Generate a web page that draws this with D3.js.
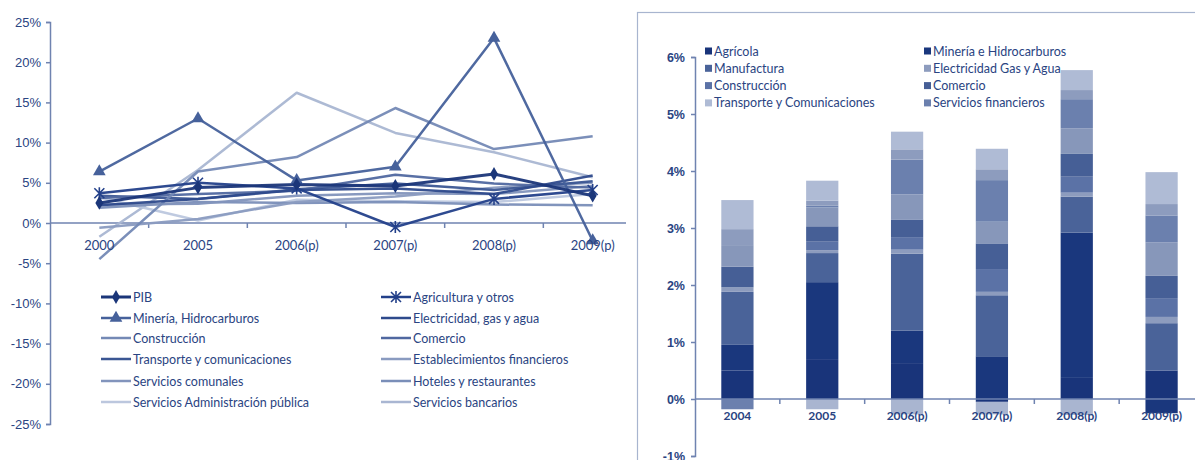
<!DOCTYPE html>
<html><head><meta charset="utf-8">
<script src="https://cdn.jsdelivr.net/npm/d3@7"></script>
<style>
body{margin:0;background:#fff;}
svg{display:block;font-family:Lato,"Open Sans",sans-serif;}
</style></head><body>
<svg id="c" width="1195" height="460"></svg>
<script>
// ---------- Left panel: sector growth rates (%) ----------
const lineYears = ["2000","2005","2006(p)","2007(p)","2008(p)","2009(p)"];
const lineTicks = [-25,-20,-15,-10,-5,0,5,10,15,20,25];

const pib            = [2.5, 4.4, 4.8, 4.6, 6.1, 3.4];
const agricultura    = [3.7, 5.0, 4.3, -0.5, 3.0, 4.1];
const mineriaHidro   = [6.4, 13.0, 5.3, 7.0, 23.0, -2.2];
const electricidadL  = [2.2, 3.0, 4.1, 4.3, 3.6, 5.9];
const construccionL  = [-4.5, 6.4, 8.2, 14.3, 9.2, 10.8];
const comercioL      = [3.1, 3.6, 4.0, 6.0, 4.9, 4.4];
const transporteL    = [3.4, 3.0, 4.2, 4.9, 4.1, 5.2];
const financierosL   = [-0.6, 0.5, 2.6, 3.3, 4.4, 5.0];
const comunalesL     = [2.3, 2.4, 3.4, 3.7, 3.6, 4.6];
const hotelesL       = [1.9, 2.6, 2.5, 2.6, 2.3, 2.2];
const adminPublicaL  = [3.2, 0.3, 2.9, 2.7, 2.6, 3.6];
const bancariosL     = [-1.7, 6.6, 16.2, 11.2, 8.8, 5.7];

const lineSeries = [
  {name:"PIB", values:pib, color:"#1b3679", width:3, marker:"diamond"},
  {name:"Agricultura y otros", values:agricultura, color:"#23408a", width:2.5, marker:"star"},
  {name:"Minería, Hidrocarburos", values:mineriaHidro, color:"#46619b", width:2.5, marker:"triangle"},
  {name:"Electricidad, gas y agua", values:electricidadL, color:"#2e4a8c", width:2.5},
  {name:"Construcción", values:construccionL, color:"#7489b5", width:2.5},
  {name:"Comercio", values:comercioL, color:"#5068a0", width:2.5},
  {name:"Transporte y comunicaciones", values:transporteL, color:"#3b5693", width:2.5},
  {name:"Establecimientos financieros", values:financierosL, color:"#8a9bc0", width:2.5},
  {name:"Servicios comunales", values:comunalesL, color:"#8294bc", width:2.5},
  {name:"Hoteles y restaurantes", values:hotelesL, color:"#7a8eb8", width:2.5},
  {name:"Servicios Administración pública", values:adminPublicaL, color:"#bcc7de", width:2.5},
  {name:"Servicios bancarios", values:bancariosL, color:"#a9b6d2", width:2.5}
];

// ---------- Right panel: contribution to growth (%) ----------
const barYears = ["2004","2005","2006(p)","2007(p)","2008(p)","2009(p)"];
const barTicks = [-1,0,1,2,3,4,5,6];

const agricola        = [0.50, 0.70, 0.63, -0.05, 0.37, 0.50];
const mineria         = [0.45, 1.35, 0.57, 0.75, 2.55, -0.25];
const manufactura     = [0.93, 0.51, 1.35, 1.07, 0.63, 0.83];
const electricidad    = [0.08, 0.05, 0.07, 0.06, 0.07, 0.11];
const construccion    = [0.00, 0.15, 0.22, 0.40, 0.28, 0.33];
const comercio        = [0.36, 0.27, 0.31, 0.45, 0.40, 0.39];
const servComunales   = [0.38, 0.33, 0.44, 0.38, 0.45, 0.59];
const servFinancieros = [-0.18, 0.03, 0.61, 0.73, 0.51, 0.47];
const vivienda        = [0.28, 0.09, 0.18, 0.19, 0.16, 0.20];
const transporte      = [0.51, 0.35, 0.31, 0.36, 0.35, 0.56];
const bancarios       = [0.00, -0.18, -0.27, -0.22, -0.28, 0.00];

const barSeries = [
  {key:"Agrícola", values:agricola, color:"#19347a"},
  {key:"Minería e Hidrocarburos", values:mineria, color:"#1a377d"},
  {key:"Manufactura", values:manufactura, color:"#4a6399"},
  {key:"Electricidad Gas y Agua", values:electricidad, color:"#8d9cbe"},
  {key:"Construcción", values:construccion, color:"#5b72a6"},
  {key:"Comercio", values:comercio, color:"#465f96"},
  {key:"Servicios comunales", values:servComunales, color:"#8797ba"},
  {key:"Servicios financieros", values:servFinancieros, color:"#6b80ae"},
  {key:"Propiedad de vivienda", values:vivienda, color:"#8d9cbe"},
  {key:"Transporte y Comunicaciones", values:transporte, color:"#afbbd5"},
  {key:"Servicios bancarios imputados", values:bancarios, color:"#a9b5d0"}
];
const barLegendOrder = ["Agrícola","Minería e Hidrocarburos","Manufactura","Electricidad Gas y Agua",
  "Construcción","Comercio","Transporte y Comunicaciones","Servicios financieros"];

const axisColor = "#6f83b0";
const textColor = "#2a4482";
const svg = d3.select("#c");

// ================= Left panel =================
svg.append("defs").append("clipPath").attr("id","leftClip")
  .append("rect").attr("x",0).attr("y",0).attr("width",626).attr("height",460);
const left = svg.append("g").attr("clip-path","url(#leftClip)");

const x = d3.scaleBand().domain(lineYears).range([50,642]);
const y = d3.scaleLinear().domain([-25,25]).range([424,22]);
const cx = d => x(d) + x.bandwidth()/2;

// y axis
const yAx = left.append("g").attr("transform","translate(50,0)")
  .call(d3.axisLeft(y).tickValues(lineTicks).tickFormat(d=>d+"%").tickSize(4).tickPadding(5));
yAx.select(".domain").attr("stroke",axisColor).attr("stroke-width",1.5);
yAx.selectAll(".tick line").attr("stroke",axisColor).attr("stroke-width",1.5);
yAx.selectAll(".tick text").attr("fill",textColor).style("font-size","13px").style("font-family",null);

// x axis at zero with ticks on band boundaries
const y0 = y(0);
left.append("line").attr("x1",x.range()[0]).attr("x2",x.range()[1]).attr("y1",y0).attr("y2",y0)
  .attr("stroke",axisColor).attr("stroke-width",1.5);
left.selectAll(".xtick").data(lineYears.slice(1)).join("line")
  .attr("x1",d=>x(d)).attr("x2",d=>x(d)).attr("y1",y0).attr("y2",y0+5)
  .attr("stroke",axisColor).attr("stroke-width",1.5);

// lines (PIB drawn last so it sits on top)
const line = d3.line().x((v,i)=>cx(lineYears[i])).y(v=>y(v));
const drawOrder = lineSeries.slice().reverse();
left.selectAll(".ser").data(drawOrder).join("path")
  .attr("d",s=>line(s.values)).attr("fill","none")
  .attr("stroke",s=>s.color).attr("stroke-width",s=>s.width)
  .attr("stroke-linejoin","round").attr("opacity",0.95);

function drawMarker(g, type, px, py, color){
  if(type==="diamond"){
    g.append("path").attr("d",d3.symbol(d3.symbolDiamond,55)()).attr("transform",`translate(${px},${py})`)
      .attr("fill",color);
  } else if(type==="triangle"){
    g.append("path").attr("d",d3.symbol(d3.symbolTriangle,70)()).attr("transform",`translate(${px},${py})`)
      .attr("fill",color);
  } else if(type==="star"){
    const r=5;
    g.append("path").attr("d",`M${px-r},${py-r}L${px+r},${py+r}M${px-r},${py+r}L${px+r},${py-r}M${px},${py-r-1}L${px},${py+r+1}`)
      .attr("stroke",color).attr("stroke-width",1.6).attr("fill","none");
  }
}
const markG = left.append("g");
drawOrder.filter(s=>s.marker).forEach(s=>{
  s.values.forEach((v,i)=>drawMarker(markG, s.marker, cx(lineYears[i]), y(v), s.color));
});

// x labels
left.selectAll(".xl").data(lineYears).join("text")
  .attr("x",d=>cx(d)).attr("y",y0+27).attr("text-anchor","middle")
  .attr("fill",textColor).style("font-size","13px").text(d=>d);

// legend
const legRows = [297,318,338,359,381,402];
const lg = svg.append("g");
lineSeries.forEach((s,i)=>{
  const col = i%2, row = Math.floor(i/2);
  const lx = col===0 ? 101 : 381, ly = legRows[row];
  lg.append("line").attr("x1",lx).attr("x2",lx+30).attr("y1",ly).attr("y2",ly)
    .attr("stroke",s.color).attr("stroke-width",s.width);
  if(s.marker) drawMarker(lg, s.marker, lx+15, ly, s.color);
  lg.append("text").attr("x",lx+32).attr("y",ly+4.5).attr("fill",textColor)
    .style("font-size","12.5px").text(s.name);
});

// ================= Right panel =================
svg.append("rect").attr("x",637.5).attr("y",12.5).attr("width",700).attr("height",600)
  .attr("fill","none").attr("stroke","#a8b5cf").attr("stroke-width",1.2);

const xb = d3.scaleBand().domain(barYears).range([695,1204]).paddingInner(0.62).paddingOuter(0.31);
const yb = d3.scaleLinear().domain([-1,6]).range([456,57]);

const rows = barYears.map((yr,i)=>{
  const r = {year:yr};
  barSeries.forEach(s=>{ r[s.key] = s.values[i]; });
  return r;
});
const stacked = d3.stack().keys(barSeries.map(s=>s.key)).offset(d3.stackOffsetDiverging)(rows);
const colorOf = Object.fromEntries(barSeries.map(s=>[s.key,s.color]));

const right = svg.append("g");
right.selectAll(".layer").data(stacked).join("g")
  .attr("fill",l=>colorOf[l.key])
  .selectAll("rect").data(l=>l).join("rect")
  .attr("x",d=>xb(d.data.year)).attr("width",xb.bandwidth())
  .attr("y",d=>yb(Math.max(d[0],d[1]))).attr("height",d=>Math.abs(yb(d[0])-yb(d[1])));

// y axis
const ybAx = right.append("g").attr("transform","translate(695,0)")
  .call(d3.axisLeft(yb).tickValues(barTicks).tickFormat(d=>d+"%").tickSize(4).tickPadding(6));
ybAx.select(".domain").attr("stroke",axisColor).attr("stroke-width",1.5);
ybAx.selectAll(".tick line").attr("stroke",axisColor).attr("stroke-width",1.5);
ybAx.selectAll(".tick text").attr("fill",textColor).style("font-size","12.5px")
  .style("font-weight","bold").style("font-family",null);

// x axis at zero
const yb0 = yb(0);
right.append("line").attr("x1",695).attr("x2",1204).attr("y1",yb0).attr("y2",yb0)
  .attr("stroke",axisColor).attr("stroke-width",1.5);
const step = xb.step();
right.selectAll(".bt").data(barYears.slice(1)).join("line")
  .attr("x1",d=>xb(d)-xb.paddingInner()*step/2).attr("x2",d=>xb(d)-xb.paddingInner()*step/2)
  .attr("y1",yb0).attr("y2",yb0+5).attr("stroke",axisColor).attr("stroke-width",1.5);
right.selectAll(".bl").data(barYears).join("text")
  .attr("x",d=>xb(d)+xb.bandwidth()/2).attr("y",yb0+21).attr("text-anchor","middle")
  .attr("fill",textColor).style("font-size","12px").style("font-weight","bold").text(d=>d);

// legend
const rl = svg.append("g");
barLegendOrder.forEach((k,i)=>{
  const col=i%2, row=Math.floor(i/2);
  const lx = col===0 ? 705 : 924, ly = 51 + row*17.3;
  rl.append("rect").attr("x",lx).attr("y",ly-3.5).attr("width",7).attr("height",7).attr("fill",colorOf[k]);
  rl.append("text").attr("x",lx+9).attr("y",ly+4.5).attr("fill",textColor)
    .style("font-size","12.5px").text(k);
});
</script>
</body></html>
